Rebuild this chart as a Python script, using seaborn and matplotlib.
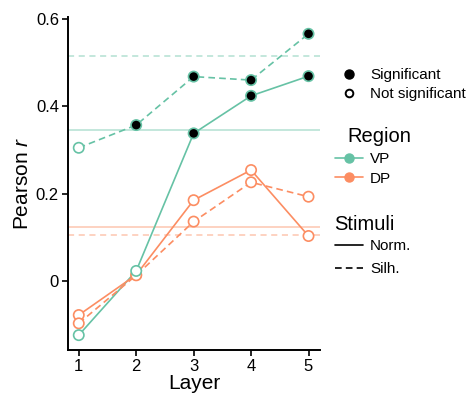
import pandas as pd
import matplotlib
matplotlib.use("Agg")
import matplotlib.pyplot as plt
import seaborn as sns
from matplotlib.lines import Line2D

# --- data ---
layers = [1, 2, 3, 4, 5]

vp_norm = [-0.124, 0.023, 0.338, 0.424, 0.469]
vp_silh = [0.305, 0.357, 0.468, 0.460, 0.566]
dp_norm = [-0.078, 0.014, 0.185, 0.254, 0.103]
dp_silh = [-0.097, 0.013, 0.136, 0.226, 0.193]

vp_norm_sig = [False, False, True, True, True]
vp_silh_sig = [False, True, True, True, True]
dp_norm_sig = [False, False, False, False, False]
dp_silh_sig = [False, False, False, False, False]

# reference levels (horizontal lines)
ref_levels = {("VP", "Norm."): 0.346, ("VP", "Silh."): 0.515,
              ("DP", "Norm."): 0.124, ("DP", "Silh."): 0.105}

regions = ["VP", "DP"]
stimuli = ["Norm.", "Silh."]
colors = {"VP": "#66c2a5", "DP": "#fc8d62"}

rows = []
for region, stim, vals, sig in [("VP", "Norm.", vp_norm, vp_norm_sig),
                                ("VP", "Silh.", vp_silh, vp_silh_sig),
                                ("DP", "Norm.", dp_norm, dp_norm_sig),
                                ("DP", "Silh.", dp_silh, dp_silh_sig)]:
    for l, v, s in zip(layers, vals, sig):
        rows.append({"Layer": l, "r": v, "Region": region, "Stimuli": stim, "Sig": s})
df = pd.DataFrame(rows)

# --- style ---
sns.set_style("ticks")
plt.rcParams["font.family"] = ["Liberation Sans", "DejaVu Sans"]
plt.rcParams["mathtext.fontset"] = "custom"
plt.rcParams["mathtext.it"] = "Liberation Sans:italic"
plt.rcParams["mathtext.rm"] = "Liberation Sans"
for k in ["text.color", "axes.labelcolor", "xtick.color", "ytick.color"]:
    plt.rcParams[k] = "black"

fig = plt.figure(figsize=(4.74, 3.96), dpi=100)
ax = fig.add_axes([0.1435, 0.1162, 0.5316, 0.841])

dash_pat = (4, 2.5)
lw = 1.2

# reference lines
for (region, stim), lvl in ref_levels.items():
    ax.axhline(lvl, color=colors[region], alpha=0.5, lw=1.1,
               ls="-" if stim == "Norm." else (0, (4, 3)), zorder=1)

sns.lineplot(data=df, x="Layer", y="r", hue="Region", style="Stimuli",
             palette=colors, hue_order=regions, style_order=stimuli,
             dashes={"Norm.": "", "Silh.": dash_pat}, lw=lw,
             legend=False, ax=ax, zorder=2)

# markers: black fill = significant, white fill = not significant
for (region, stim), sub in df.groupby(["Region", "Stimuli"]):
    face = ["black" if s else "white" for s in sub["Sig"]]
    ax.scatter(sub["Layer"], sub["r"], s=55, facecolors=face,
               edgecolors=colors[region], linewidths=1.2, zorder=3)

ax.set_xlim(0.813, 5.2)
ax.set_ylim(-0.158, 0.6046)
ax.set_xticks(layers)
ax.set_yticks([0, 0.2, 0.4, 0.6])
ax.set_yticklabels(["0", "0.2", "0.4", "0.6"])
ax.tick_params(labelsize=12, length=4, width=1.2, color="black", pad=2.5)
for sp in ["left", "bottom"]:
    ax.spines[sp].set_linewidth(1.4)
    ax.spines[sp].set_color("black")
sns.despine(ax=ax)
ax.set_xlabel("Layer", fontsize=15, labelpad=0)
ax.set_ylabel("Pearson $r$", fontsize=15, labelpad=3)

# --- legends ---
fs = 11
sig_handles = [
    Line2D([], [], marker="o", ls="none", mfc="black", mec="black", ms=6.5),
    Line2D([], [], marker="o", ls="none", mfc="white", mec="black", ms=5.5, mew=1.4),
]
leg1 = fig.legend(sig_handles, ["Significant", "Not significant"],
                  loc="upper left", bbox_to_anchor=(341 / 474, 1 - 68 / 396),
                  frameon=False, fontsize=fs, handlelength=1.0,
                  handletextpad=0.9, labelspacing=0.33, borderaxespad=0,
                  borderpad=0)

reg_handles = [Line2D([], [], color=colors[r], marker="o", ms=6.5, lw=lw)
               for r in regions]
leg2 = fig.legend(reg_handles, regions, loc="upper left",
                  bbox_to_anchor=(335 / 474, 1 - 152 / 396), frameon=False,
                  fontsize=fs, handlelength=1.83, handletextpad=0.46,
                  labelspacing=0.38, borderaxespad=0, borderpad=0)
fig.text(347 / 474, 1 - 137 / 396, "Region", fontsize=14.5, va="center")

stim_handles = [Line2D([], [], color="black", lw=lw, ls="-"),
                Line2D([], [], color="black", lw=lw, ls=(0, dash_pat))]
leg3 = fig.legend(stim_handles, stimuli, loc="upper left",
                  bbox_to_anchor=(335 / 474, 1 - 239 / 396), frameon=False,
                  fontsize=fs, handlelength=1.83, handletextpad=0.46,
                  labelspacing=0.58, borderaxespad=0, borderpad=0)
fig.text(334 / 474, 1 - 224 / 396, "Stimuli", fontsize=14.5, va="center")

fig.savefig("out.png", dpi=100)
